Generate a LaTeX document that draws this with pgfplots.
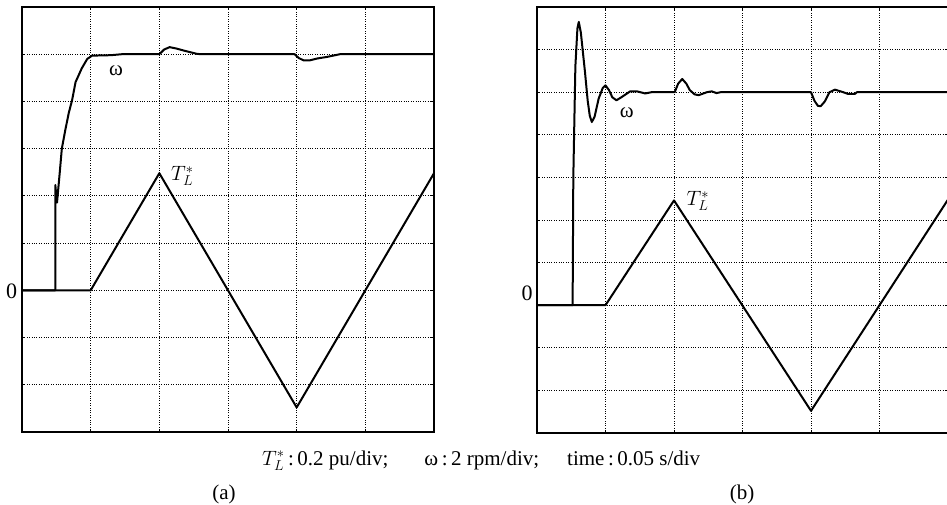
\documentclass[border=0pt]{standalone}
\usepackage{fontspec}
\setmainfont{Liberation Serif}
\usepackage{pgfplots}
\pgfplotsset{compat=1.18}
\begin{document}
\begin{tikzpicture}
\path[use as bounding box] (0pt,0pt) rectangle (947pt,504pt);
\pgfplotsset{
 osc/.style={
  scale only axis, anchor=south west, no markers,
  xmin=0, xmax=6, xtick={1,2,3,4,5}, xticklabels={}, yticklabels={},
  grid=major, major grid style={black, dotted, line width=0.8pt},
  tick style={black, line width=0.8pt}, major tick length=3pt, tick align=inside,
  axis line style={line width=1.6pt},
  cycle list={{black}},
  every axis plot post/.append style={black, mark=none, line width=2pt, line join=round},
 }
}
% ---------------- (a) ----------------
\begin{axis}[osc, at={(22pt,72pt)}, width=412pt, height=425pt, ymin=-3, ymax=6, ytick={-2,-1,0,1,2,3,4,5}]
\addplot coordinates {(0,0) (1,0) (2,2.48) (4,-2.48) (6,2.48)};
\addplot coordinates {(0,0) (0.485,0) (0.485,2.23) (0.51,1.86) (0.55,2.5) (0.58,3.0) (0.63,3.39) (0.68,3.75) (0.73,4.03) (0.78,4.41) (0.87,4.7) (0.95,4.9) (1.02,4.97) (1.3,4.98) (1.45,5.0) (2.0,5.0) (2.07,5.1) (2.15,5.15) (2.25,5.12) (2.35,5.08) (2.54,5.01) (2.6,5.0) (3.97,5.0) (4.03,4.92) (4.1,4.87) (4.19,4.87) (4.3,4.91) (4.43,4.94) (4.63,5.0) (6,5.0)};
\node[font=\fontsize{21}{23}\selectfont] at (axis cs:1.37,4.65) {ω};
\node[anchor=west, font=\fontsize{21}{23}\selectfont, inner sep=0pt] at (axis cs:2.17,2.42) {$T_L^*$};
\end{axis}
\node[font=\fontsize{22}{24}\selectfont] at (11.5pt,213pt) {0};
% ---------------- (b) ----------------
\begin{axis}[osc, at={(537pt,71pt)}, width=411pt, height=426pt, ymin=-3, ymax=7, ytick={-2,-1,0,1,2,3,4,5,6}]
\addplot coordinates {(0,0) (1,0) (2,2.46) (4,-2.48) (6,2.48)};
\addplot coordinates {(0,0) (0.52,0) (0.53,3.0) (0.56,5.6) (0.59,6.5) (0.61,6.65) (0.64,6.4) (0.70,5.48) (0.74,4.8) (0.77,4.45) (0.80,4.30) (0.84,4.42) (0.9,4.85) (0.96,5.1) (1.0,5.16) (1.05,5.05) (1.1,4.88) (1.16,4.81) (1.23,4.88) (1.36,5.02) (1.46,5.02) (1.58,4.97) (1.67,5.0) (2.01,5.0) (2.06,5.2) (2.12,5.31) (2.18,5.2) (2.23,5.05) (2.3,4.95) (2.36,4.93) (2.48,5.0) (2.55,5.02) (2.62,4.98) (2.68,5.0) (4.0,5.0) (4.05,4.8) (4.1,4.68) (4.14,4.67) (4.2,4.78) (4.27,5.0) (4.35,5.06) (4.47,5.0) (4.54,4.96) (4.64,4.96) (4.67,5.0) (6,5.0)};
\node[font=\fontsize{21}{23}\selectfont] at (axis cs:1.31,4.52) {ω};
\node[anchor=west, font=\fontsize{21}{23}\selectfont, inner sep=0pt] at (axis cs:2.18,2.44) {$T_L^*$};
\end{axis}
\node[font=\fontsize{22}{24}\selectfont] at (527pt,211pt) {0};
% ---------------- captions ----------------
\node[anchor=base west, inner sep=0pt, font=\fontsize{21}{23}\selectfont] at (262pt,39pt) {$T_L^*$\,:\,0.2 pu/div;\hspace{36pt}ω\,:\,2 rpm/div;\hspace{28pt}time\,:\,0.05 s/div};
\node[font=\fontsize{21}{23}\selectfont] at (224pt,10pt) {(a)};
\node[font=\fontsize{21}{23}\selectfont] at (742pt,10pt) {(b)};
\end{tikzpicture}
\end{document}
